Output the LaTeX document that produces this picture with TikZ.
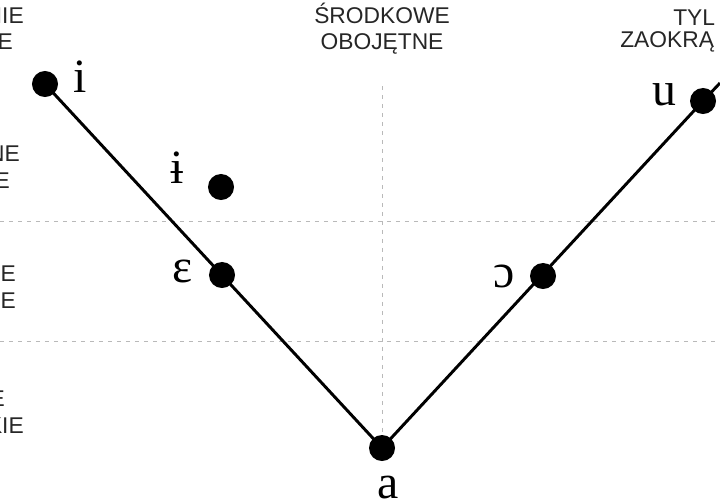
\documentclass[tikz,border=0pt]{standalone}
\usepackage{fontspec}
\setmainfont{Liberation Serif}
\newfontfamily\capsfont{Liberation Sans}
\usepackage{tikz}
\tikzset{
	vowel/.style={circle, fill=black, inner sep=0pt, minimum size=18.5pt},
	ipa/.style={inner sep=0pt, anchor=base, font=\fontsize{34}{34}\selectfont},
	caps/.style={inner sep=0pt, text=black!85, font=\capsfont\fontsize{16.2}{18.5}\selectfont},
	grid/.style={gray!55, line width=0.6pt, dash pattern=on 3pt off 3.4pt},
	arm/.style={line width=2.1pt}
}

\begin{document}
\begin{tikzpicture}[x=0.025cm, y=-0.025cm]
		%%%%% START %%%%%
		\useasboundingbox (0, 0) rectangle (720, 500);
		
		\draw[grid] (0, 221) -- (720, 221);
		\draw[grid] (0, 341) -- (720, 341);
		\draw[grid] (382, 86) -- (382, 440);
		
		\node[caps, anchor=base east] (lfa) at (24, 23) {NIE};
		\node[caps, anchor=base east] (lfb) at (13, 49) {E};
		\node[caps, anchor=base east] (lfc) at (20, 161) {NE};
		\node[caps, anchor=base east] (lfd) at (10, 188) {E};
		\node[caps, anchor=base east] (lfe) at (16, 281) {E};
		\node[caps, anchor=base east] (lff) at (16, 308) {E};
		\node[caps, anchor=base east] (lfg) at (5, 406) {E};
		\node[caps, anchor=base east] (lfh) at (24, 433) {KIE};
		
		\node[caps, anchor=base] (mida) at (382, 23) {ŚRODKOWE};
		\node[caps, anchor=base] (midb) at (382, 49) {OBOJĘTNE};
		
		\node[caps, anchor=base west] (rta) at (673, 25) {TYL};
		\node[caps, anchor=base west] (rtb) at (620, 47) {ZAOKRĄ};
		
		\coordinate (edge) at (720, 83);
		\node[vowel] (vi) at (45, 84) {};
		\node[vowel] (vy) at (221, 187) {};
		\node[vowel] (ve) at (222, 275) {};
		\node[vowel] (va) at (382, 448) {};
		\node[vowel] (vo) at (543, 276) {};
		\node[vowel] (vu) at (703, 101) {};
		
		\draw[arm] (vi.center) -- (va.center) -- (vu.center) -- (edge);
		
		\node[ipa] (li) at (80, 92) {i};
		\node[ipa] (ly) at (177, 183) {ɨ};
		\node[ipa] (le) at (183, 282) {ɛ};
		\node[ipa] (la) at (388, 498) {a};
		\node[ipa] (lo) at (504, 287) {ɔ};
		\node[ipa] (lu) at (664, 105) {u};
		
		%%%%% END %%%%%
	\end{tikzpicture}
\end{document}
